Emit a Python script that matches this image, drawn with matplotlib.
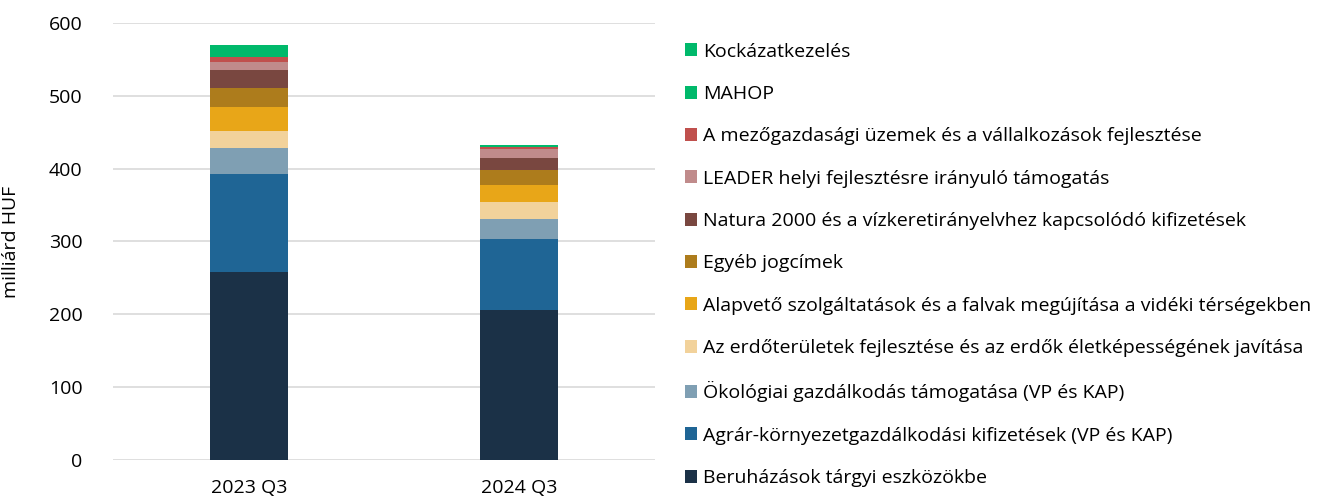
import matplotlib
matplotlib.use("Agg")
import matplotlib.pyplot as plt
from matplotlib.patches import Patch

plt.rcParams['font.family'] = ['Open Sans', 'DejaVu Sans']

categories = ["2023 Q3", "2024 Q3"]
series_names = [
    "Beruházások tárgyi eszközökbe",
    "Agrár-környezetgazdálkodási kifizetések (VP és KAP)",
    "Ökológiai gazdálkodás támogatása (VP és KAP)",
    "Az erdőterületek fejlesztése és az erdők életképességének javítása",
    "Alapvető szolgáltatások és a falvak megújítása a vidéki térségekben",
    "Egyéb jogcímek",
    "Natura 2000 és a vízkeretirányelvhez kapcsolódó kifizetések",
    "LEADER helyi fejlesztésre irányuló támogatás",
    "A mezőgazdasági üzemek és a vállalkozások fejlesztése",
    "MAHOP",
    "Kockázatkezelés",
]
values_2023 = [258.1, 134.1, 36.1, 23.8, 32.5, 26.5, 23.9, 11.8, 6.9, 0.5, 15.5]
values_2024 = [206.0, 97.9, 26.6, 24.2, 22.9, 21.0, 16.5, 12.4, 2.7, 1.0, 1.3]
colors = ["#1B3147", "#1F6595", "#7F9FB3", "#F2D29B", "#E8A618", "#AD7C1C",
          "#794740", "#C08B8B", "#C0504D", "#00B96B", "#00B96B"]

fig = plt.figure(figsize=(13.17, 5.0), dpi=100)
ax = fig.add_axes([113 / 1317, 40 / 500, 542 / 1317, 437 / 500])

x = [0, 1]
bottoms = [0.0, 0.0]
for name, v23, v24, c in zip(series_names, values_2023, values_2024, colors):
    vals = [v23, v24]
    ax.bar(x, vals, width=0.289, bottom=bottoms, color=c, label=name, zorder=3)
    bottoms = [b + v for b, v in zip(bottoms, vals)]

ax.set_xlim(-0.504, 1.504)
ax.set_ylim(0, 600)
ax.set_yticks(range(0, 601, 100))
ax.set_xticks(x)
ax.set_xticklabels(categories)
ax.grid(axis='y', color='#D9D9D9', linewidth=1.2, zorder=0)
for s in ax.spines.values():
    s.set_visible(False)
ax.tick_params(axis='both', length=0, labelsize=14, colors='black')
ax.tick_params(axis='y', pad=22)
ax.tick_params(axis='x', pad=14)
ax.set_ylabel("milliárd HUF", fontsize=14)
ax.yaxis.set_label_coords((20 - 113) / 542, 0.5)

handles = [Patch(facecolor=c, edgecolor='none') for c in colors][::-1]
labels = series_names[::-1]
fig.legend(handles, labels, loc='upper left', bbox_to_anchor=(677 / 1317, 1 - 35 / 500),
           frameon=False, fontsize=14, labelspacing=1.25, handlelength=0.65,
           handleheight=0.65, handletextpad=0.3, borderaxespad=0)

fig.savefig("out.png", dpi=100)
